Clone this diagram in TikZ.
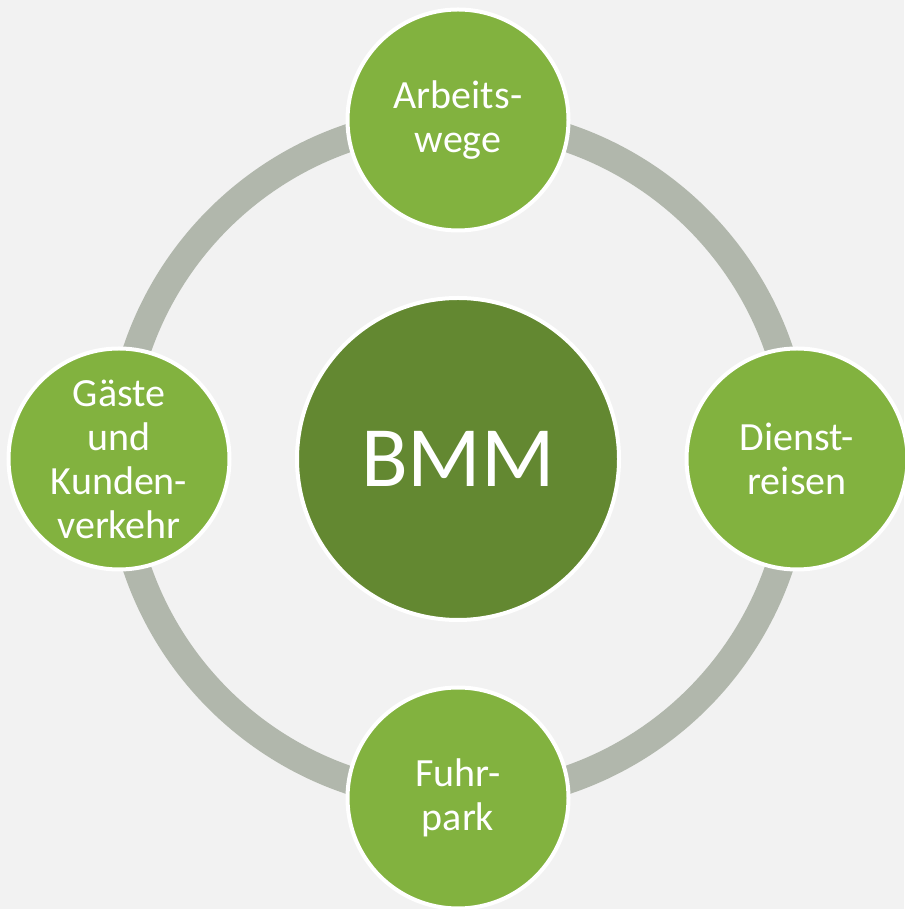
\documentclass[tikz,border=0pt]{standalone}
\usepackage{fontspec}
\setmainfont{Carlito}
\definecolor{bgc}{HTML}{F2F2F2}
\definecolor{ringc}{HTML}{B1B7AC}
\definecolor{satc}{HTML}{82B23F}
\definecolor{midc}{HTML}{638831}
\pgfdeclarelayer{backdrop}
\pgfdeclarelayer{background}
\pgfsetlayers{backdrop,background,main}
\tikzset{
  sat/.style={circle, fill=satc, draw=white, line width=4pt, minimum size=221pt, inner sep=0pt,
    text=white, align=center, font=\fontsize{40}{44}\selectfont},
  hub/.style={circle, fill=midc, draw=white, line width=4pt, minimum size=322pt, inner sep=0pt,
    text=white, font=\fontsize{86}{90}\selectfont},
  ring/.style={draw=ringc, line width=28pt}
}
\begin{document}
\begin{tikzpicture}[x=1pt,y=1pt]
\begin{pgfonlayer}{backdrop}
\fill[bgc] (0,0) rectangle (904,909);
\end{pgfonlayer}
\useasboundingbox (0,0) rectangle (904,909);
\node[hub] (bmm) at (458,450) {BMM};
\node[sat] (top) at (458,789) {Arbeits-\\wege};
\node[sat] (right) at (797,450) {Dienst-\\reisen};
\node[sat] (bottom) at (458,111) {Fuhr-\\park};
\node[sat] (left) at (119,450) {Gäste\\und\\Kunden-\\verkehr};
\begin{pgfonlayer}{background}
\draw[ring] (top.center) arc[start angle=90, end angle=0, radius=339pt];
\draw[ring] (right.center) arc[start angle=0, end angle=-90, radius=339pt];
\draw[ring] (bottom.center) arc[start angle=270, end angle=180, radius=339pt];
\draw[ring] (left.center) arc[start angle=180, end angle=90, radius=339pt];
\end{pgfonlayer}
\end{tikzpicture}
\end{document}
